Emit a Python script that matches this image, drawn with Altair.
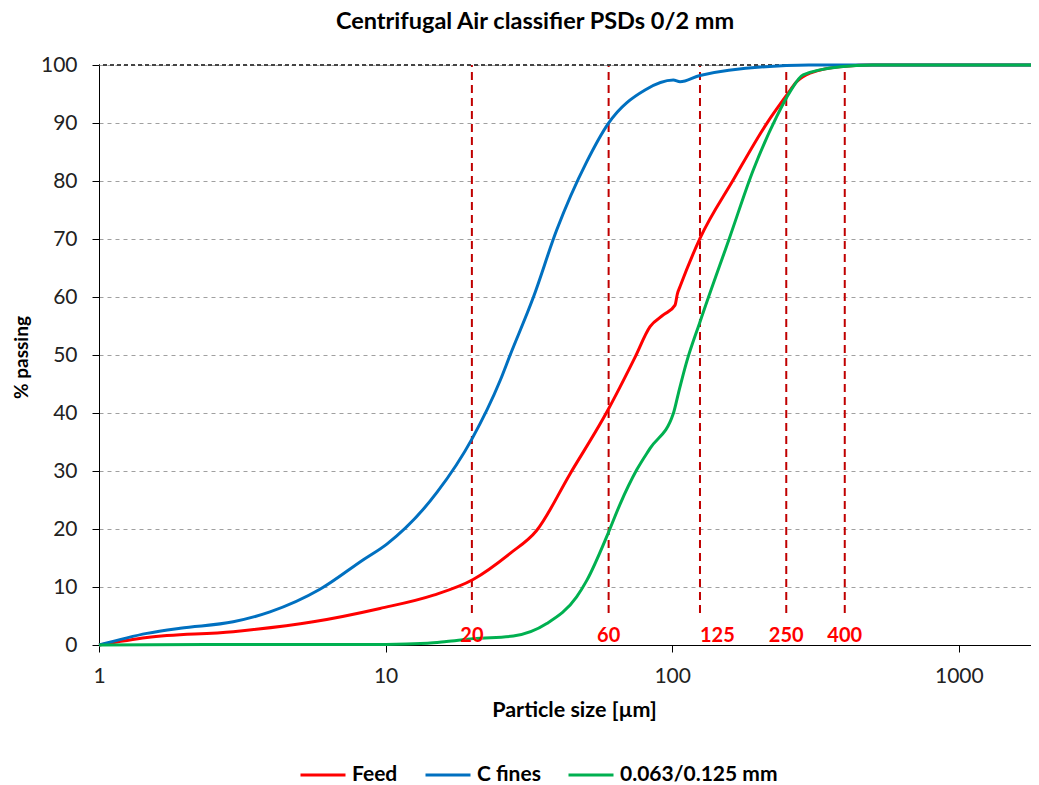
import altair as alt
import pandas as pd

# ---- data ----
series_names = ["Feed", "C fines", "0.063/0.125 mm"]
series_colors = ["#FF0000", "#0070C0", "#00B050"]

feed_size = [1, 1.47, 2.94, 5.59, 9.56, 14.7, 20.2, 27.2, 33.6, 44.0, 59.8, 65.8,
             74.0, 83.7, 93.1, 102.3, 104.3, 106.5, 125, 163.4, 213.6, 250, 271.7,
             302.7, 400, 500, 1000, 1786]
feed_pct = [0, 1.3, 2.3, 4.0, 6.3, 8.6, 11.3, 15.8, 19.7, 29.5, 40.6, 44.5,
            49.5, 54.9, 56.9, 58.6, 60.6, 61.8, 70.1, 80.2, 89.9, 94.7, 97.1,
            98.6, 99.8, 100, 100, 100]

cfines_size = [1, 1.47, 1.92, 2.94, 3.95, 5.9, 8.36, 10.1, 15.1, 20.0, 25.1, 27.2,
               32.8, 39.5, 50.3, 59.8, 80.4, 100.9, 106.5, 125, 250, 300, 1000, 1786]
cfines_pct = [0, 2.0, 2.9, 4.0, 5.7, 9.6, 14.7, 17.4, 26.3, 35.5, 45.6, 50.0,
              60.0, 71.5, 83.3, 89.9, 95.7, 97.4, 97.1, 98.2, 99.9, 100, 100, 100]

green_size = [1, 3, 10, 14, 16.3, 20.2, 27.9, 36.5, 46.4, 50.3, 59.8, 65.8, 75.2,
              83.7, 100.9, 105.1, 112.3, 125, 159, 191.8, 231.5, 257.8, 286.4,
              387, 500, 1000, 1786]
green_pct = [0, 0.1, 0.1, 0.3, 0.6, 1.1, 1.55, 3.7, 8.3, 11.1, 19.3, 24.3, 30.2,
             33.9, 39.9, 43.4, 48.8, 55.7, 70.4, 81.9, 91.1, 95.4, 98.3,
             99.7, 100, 100, 100]

cut_sizes = [20, 60, 125, 250, 400]
cut_labels = ["20", "60", "125", "250", "400"]

x_ticks = [1, 10, 100, 1000]
y_ticks = [0, 10, 20, 30, 40, 50, 60, 70, 80, 90, 100]

X_TITLE = "Particle size [µm]"
Y_TITLE = "% passing"

# ---- tables ----
rows = []
for name, xs, ys in [(series_names[0], feed_size, feed_pct),
                     (series_names[1], cfines_size, cfines_pct),
                     (series_names[2], green_size, green_pct)]:
    for s, p in zip(xs, ys):
        rows.append({"series": name, "size": s, "pct": p})
df = pd.DataFrame(rows)
cuts = pd.DataFrame({"size": cut_sizes, "label": cut_labels})

FONT = "Lato"
xscale = alt.Scale(type="log", domain=[1, 1786], nice=False)
yscale = alt.Scale(domain=[0, 100], nice=False)

xaxis = alt.Axis(values=x_ticks, format="d", grid=False, tickSize=7,
                 labelPadding=13, labelFontSize=21, labelFont=FONT,
                 labelColor="#222222", domainColor="#000000", tickColor="#000000",
                 titleFont=FONT, titleFontSize=21.5, titleFontWeight="bold",
                 titleColor="#000000", titleX=475, titleY=65, titleBaseline="middle",
                 labelFlush=False)
yaxis = alt.Axis(values=y_ticks, grid=True, gridDash=[4, 4], gridColor="#A0A0A0",
                 tickSize=7, labelPadding=15, labelFontSize=21, labelFont=FONT,
                 labelColor="#222222", domainColor="#000000", tickColor="#000000",
                 titleFont=FONT, titleFontSize=19, titleFontWeight="bold",
                 titleColor="#000000", titleX=-78, titleY=292, titleAngle=-90,
                 titleBaseline="middle", titleAlign="center")

rules = alt.Chart(cuts).mark_rule(color="#C00000", strokeWidth=2, strokeDash=[8, 5]).encode(
    x=alt.X("size:Q", scale=xscale, axis=xaxis, title=X_TITLE),
    y=alt.YDatum(5.5, scale=yscale, axis=yaxis, title=Y_TITLE),
    y2=alt.Y2Datum(100),
)

top_line = alt.Chart(cuts).mark_rule(color="#404040", strokeWidth=1, strokeDash=[4, 3]).encode(
    y=alt.YDatum(100, scale=yscale, title=Y_TITLE),
)

lines = alt.Chart(df).mark_line(strokeWidth=3, interpolate="monotone").encode(
    x=alt.X("size:Q", scale=xscale, axis=xaxis, title=X_TITLE),
    y=alt.Y("pct:Q", scale=yscale, axis=yaxis, title=Y_TITLE),
    color=alt.Color("series:N",
                    scale=alt.Scale(domain=series_names, range=series_colors),
                    legend=alt.Legend(title=None, orient="none", direction="horizontal",
                                      legendX=200, legendY=686,
                                      symbolType="stroke", symbolSize=2025,
                                      symbolStrokeWidth=3, labelFont=FONT,
                                      labelFontSize=21, labelFontWeight="bold",
                                      labelColor="#000000", labelOffset=5,
                                      columnPadding=21, labelLimit=400)),
)

lab_center = alt.Chart(cuts).transform_filter(alt.datum.label != "125").mark_text(
    color="#FF0000", font=FONT, fontSize=20, fontWeight="bold",
    align="center", baseline="middle").encode(
    x=alt.X("size:Q", scale=xscale, title=X_TITLE),
    y=alt.YDatum(1.5, scale=yscale, title=Y_TITLE), text="label:N")
lab_left = alt.Chart(cuts).transform_filter(alt.datum.label == "125").mark_text(
    color="#FF0000", font=FONT, fontSize=20, fontWeight="bold",
    align="left", baseline="middle").encode(
    x=alt.X("size:Q", scale=xscale, title=X_TITLE),
    y=alt.YDatum(1.5, scale=yscale, title=Y_TITLE), text="label:N")

chart = alt.layer(rules, top_line, lines, lab_center, lab_left).properties(
    width=932, height=580,
    autosize=alt.AutoSizeParams(type="none"),
    padding={"left": 91, "top": 57, "right": 0, "bottom": 140},
    title=alt.TitleParams("Centrifugal Air classifier PSDs 0/2 mm", font=FONT,
                          fontSize=23.5, fontWeight="bold", color="#000000",
                          anchor="middle", dx=-30, offset=21),
).configure_view(stroke=None)

chart.save("out.html", embed_options={"renderer": "svg", "actions": False})
